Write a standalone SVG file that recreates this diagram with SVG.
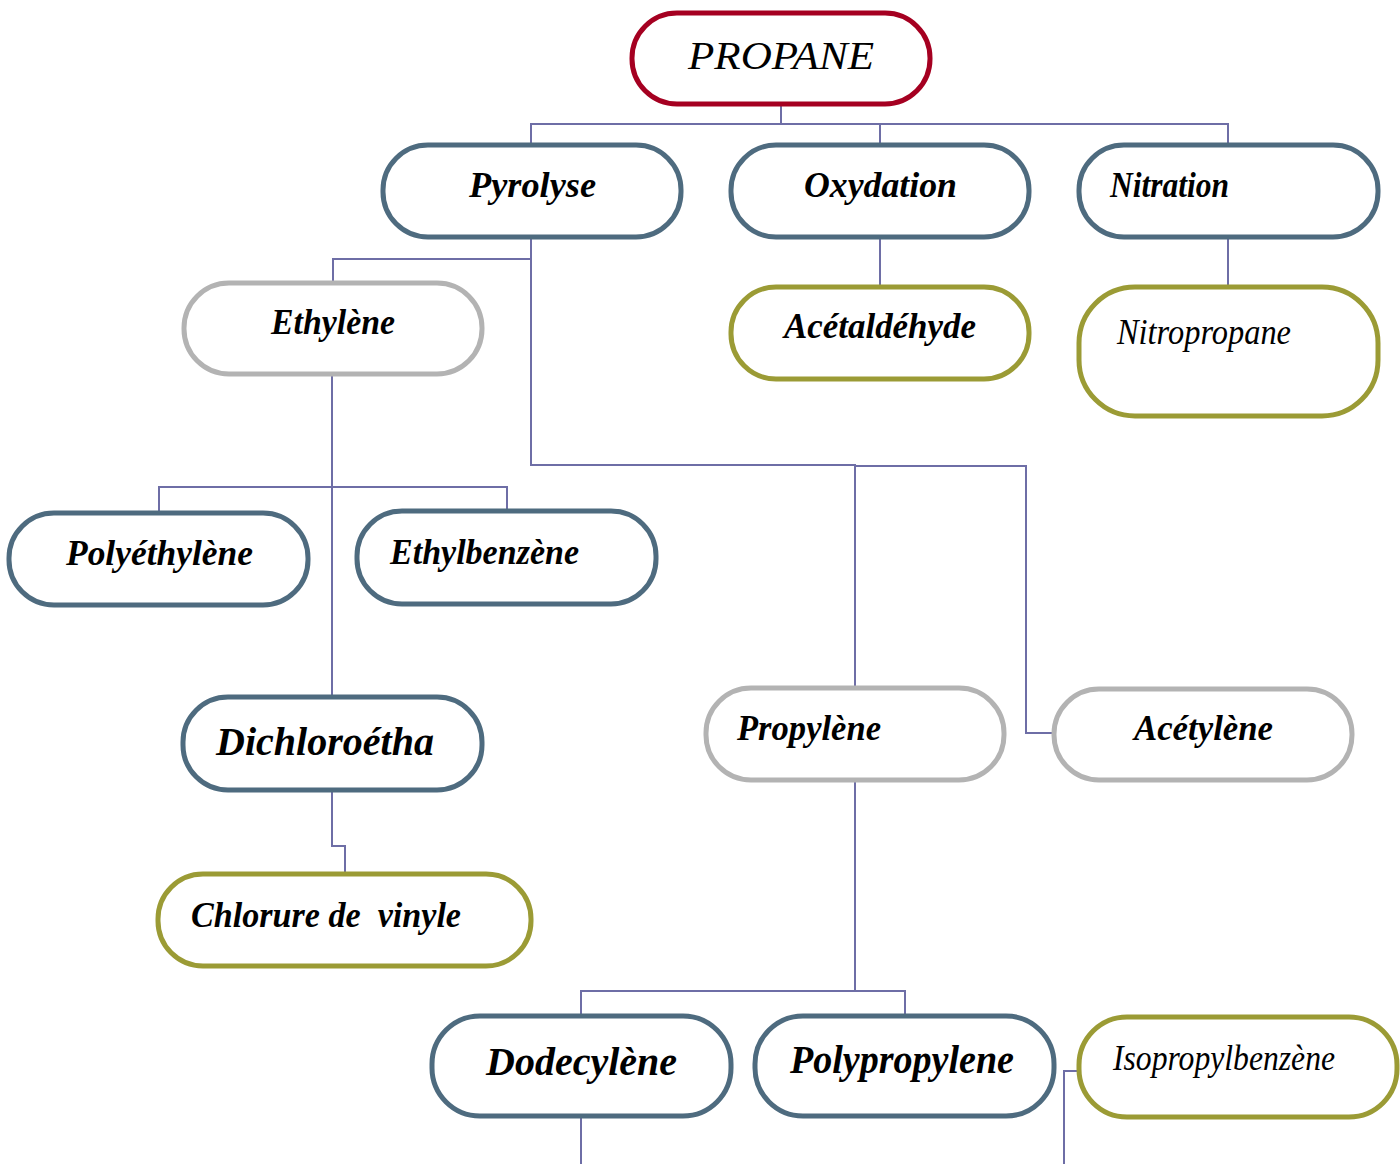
<svg xmlns="http://www.w3.org/2000/svg" width="1400" height="1164" viewBox="0 0 1400 1164">
  <style>
    .box { fill: #ffffff; stroke-width: 5; }
    .root { stroke: #A50021; }
    .step { stroke: #4E6B7F; }
    .mid { stroke: #B3B3B3; }
    .leaf { stroke: #9B9B35; }
    .lbl { font-family: "Liberation Serif", "Times New Roman", serif; font-style: italic; font-weight: bold; font-size: 35px; fill: #000000; }
    .plain { font-weight: normal; }
    .big { font-size: 39px; }
    .wire { fill: none; stroke: #6E6EA6; stroke-width: 2; }
  </style>

  <rect width="1400" height="1164" fill="#ffffff"/>

  <!-- connectors -->
  <g id="connectors">
    <path class="wire" d="M781,104 V124 M531,145 V124 H1228 V145 M880,124 V145"/>
    <path class="wire" d="M531,237 V259 H333 V283"/>
    <path class="wire" d="M531,259 V465 H855 V688"/>
    <path class="wire" d="M855,466 H1026 V733 H1054"/>
    <path class="wire" d="M880,237 V287"/>
    <path class="wire" d="M1228,237 V287"/>
    <path class="wire" d="M332,374 V697"/>
    <path class="wire" d="M159,513 V487 H507 V511"/>
    <path class="wire" d="M332,790 V846 H345 V874"/>
    <path class="wire" d="M855,780 V991"/>
    <path class="wire" d="M581,1016 V991 H905 V1016"/>
    <path class="wire" d="M581,1116 V1164"/>
    <path class="wire" d="M1079,1071 H1064 V1164"/>
  </g>

  <g id="propane">
    <rect class="box root" x="632" y="13" width="298" height="91" rx="45"/>
    <text class="lbl plain big" x="688" y="69" textLength="186" lengthAdjust="spacingAndGlyphs">PROPANE</text>
  </g>

  <g id="pyrolyse">
    <rect class="box step" x="383" y="145" width="298" height="92" rx="45"/>
    <text class="lbl" x="469" y="197" textLength="127" lengthAdjust="spacingAndGlyphs">Pyrolyse</text>
  </g>

  <g id="oxydation">
    <rect class="box step" x="731" y="145" width="298" height="92" rx="45"/>
    <text class="lbl" x="804" y="197" textLength="153" lengthAdjust="spacingAndGlyphs">Oxydation</text>
  </g>

  <g id="nitration">
    <rect class="box step" x="1079" y="145" width="299" height="92" rx="45"/>
    <text class="lbl" x="1110" y="197" textLength="119" lengthAdjust="spacingAndGlyphs">Nitration</text>
  </g>

  <g id="ethylene">
    <rect class="box mid" x="184" y="283" width="298" height="91" rx="45"/>
    <text class="lbl" x="271" y="334" textLength="124" lengthAdjust="spacingAndGlyphs">Ethylène</text>
  </g>

  <g id="acetaldehyde">
    <rect class="box leaf" x="731" y="287" width="298" height="92" rx="45"/>
    <text class="lbl" x="784" y="338" textLength="192" lengthAdjust="spacingAndGlyphs">Acétaldéhyde</text>
  </g>

  <g id="nitropropane">
    <rect class="box leaf" x="1079" y="287" width="299" height="129" rx="56"/>
    <text class="lbl plain" x="1117" y="344" textLength="174" lengthAdjust="spacingAndGlyphs">Nitropropane</text>
  </g>

  <g id="polyethylene">
    <rect class="box step" x="9" y="513" width="299" height="92" rx="45"/>
    <text class="lbl" x="66" y="565" textLength="187" lengthAdjust="spacingAndGlyphs">Polyéthylène</text>
  </g>

  <g id="ethylbenzene">
    <rect class="box step" x="357" y="511" width="299" height="93" rx="45"/>
    <text class="lbl" x="390" y="564" textLength="189" lengthAdjust="spacingAndGlyphs">Ethylbenzène</text>
  </g>

  <g id="dichloroetha">
    <rect class="box step" x="183" y="697" width="299" height="93" rx="45"/>
    <text class="lbl big" x="216" y="755" textLength="218" lengthAdjust="spacingAndGlyphs">Dichloroétha</text>
  </g>

  <g id="chlorure-de-vinyle">
    <rect class="box leaf" x="158" y="874" width="373" height="92" rx="45"/>
    <text class="lbl" x="191" y="927" textLength="270" lengthAdjust="spacingAndGlyphs" xml:space="preserve">Chlorure de  vinyle</text>
  </g>

  <g id="propylene">
    <rect class="box mid" x="706" y="688" width="298" height="92" rx="45"/>
    <text class="lbl" x="737" y="740" textLength="144" lengthAdjust="spacingAndGlyphs">Propylène</text>
  </g>

  <g id="acetylene">
    <rect class="box mid" x="1054" y="689" width="298" height="91" rx="45"/>
    <text class="lbl" x="1134" y="740" textLength="139" lengthAdjust="spacingAndGlyphs">Acétylène</text>
  </g>

  <g id="dodecylene">
    <rect class="box step" x="432" y="1016" width="299" height="100" rx="48"/>
    <text class="lbl big" x="486" y="1075" textLength="191" lengthAdjust="spacingAndGlyphs">Dodecylène</text>
  </g>

  <g id="polypropylene">
    <rect class="box step" x="755" y="1016" width="299" height="100" rx="48"/>
    <text class="lbl big" x="790" y="1073" textLength="224" lengthAdjust="spacingAndGlyphs">Polypropylene</text>
  </g>

  <g id="isopropylbenzene">
    <rect class="box leaf" x="1079" y="1017" width="318" height="100" rx="48"/>
    <text class="lbl plain" x="1113" y="1070" textLength="222" lengthAdjust="spacingAndGlyphs">Isopropylbenzène</text>
  </g>
</svg>
